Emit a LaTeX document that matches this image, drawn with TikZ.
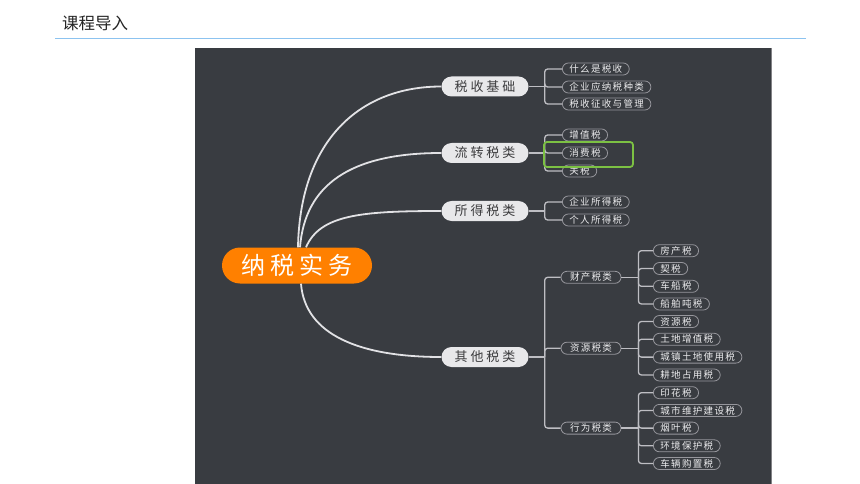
\documentclass[tikz,border=0pt]{standalone}
\usepackage{fontspec}
\setmainfont{Noto Sans CJK SC}
\newfontfamily\cjk{Noto Sans CJK SC}
\newfontfamily\cjkwide[LetterSpace=22]{Noto Sans CJK SC}
\newfontfamily\cjkleaf[LetterSpace=14]{Noto Sans CJK SC}
\usepackage{tikz}
\usetikzlibrary{positioning}
\definecolor{panel}{RGB}{57,60,65}
\definecolor{panelEdge}{RGB}{130,130,134}
\definecolor{hubOrange}{RGB}{255,128,0}
\definecolor{pillGrey}{RGB}{232,232,234}
\definecolor{textDark}{RGB}{60,60,62}
\definecolor{limbWhite}{RGB}{226,226,229}
\definecolor{linkGrey}{RGB}{190,190,195}
\definecolor{leafEdge}{RGB}{150,150,156}
\definecolor{leafText}{RGB}{236,236,238}
\definecolor{markGreen}{RGB}{124,193,67}
\definecolor{ruleBlue}{RGB}{140,195,240}
\definecolor{titleInk}{RGB}{35,35,35}

\begin{document}
\begin{tikzpicture}[x=1pt,y=-1pt,
  hub/.style={fill=hubOrange,text=white,rounded corners=18,minimum width=150,
    minimum height=36,inner sep=0,font=\cjkwide\fontsize{24}{24}\selectfont},
  branch/.style={fill=pillGrey,text=textDark,rounded corners=10,minimum width=87,
    minimum height=20,inner sep=0,font=\cjkwide\fontsize{13}{13}\selectfont},
  sub/.style={draw=leafEdge,line width=0.8,text=leafText,rounded corners=6,
    minimum width=60,minimum height=12,inner sep=0,font=\cjkleaf\fontsize{9.5}{9.5}\selectfont},
  leaf/.style={draw=leafEdge,line width=0.8,text=leafText,rounded corners=6,
    minimum height=12,inner xsep=7,inner ysep=0,anchor=west,
    font=\cjkleaf\fontsize{9.5}{9.5}\selectfont},
  limb/.style={draw=limbWhite,line width=1.8},
  link/.style={draw=linkGrey,line width=1.3,rounded corners=3}]
  \useasboundingbox (0,0) rectangle (860,484);
  \node[anchor=west,inner sep=0,text=titleInk,font=\cjk\fontsize{16.5}{16.5}\selectfont]
    (title) at (62,23.5) {课程导入};
  \draw[ruleBlue,line width=1.2] (55,38.5) -- (806,38.5);
  \fill[panel] (195,48) rectangle (772,484);
  \draw[panelEdge,line width=1.2] (771.4,48) -- (771.4,484);

  \node[hub] (hub) at (297,265.5) {纳税实务};
  \node[branch] (jichu) at (485,86.5) {税收基础};
  \node[branch] (liuzhuan) at (485,153) {流转税类};
  \node[branch] (suode) at (485,211) {所得税类};
  \node[branch] (qita) at (485,357) {其他税类};

  \draw[limb] ([xshift=1pt]hub.north) .. controls (300,140) and (360,86.5) .. (jichu.west);
  \draw[limb] ([xshift=3pt]hub.north) .. controls (305,185) and (350,153) .. (liuzhuan.west);
  \draw[limb] ([xshift=9pt]hub.north) .. controls (320,215) and (360,211) .. (suode.west);
  \draw[limb] ([xshift=4pt]hub.south) .. controls (305,335) and (360,357) .. (qita.west);

  \foreach \b in {jichu,liuzhuan,suode,qita} {
    \coordinate (\b J) at ([xshift=16pt]\b.east);
    \draw[link] (\b.east) -- (\b J);
  }
  \foreach \n/\t/\y in {a1/什么是税收/69, a2/企业应纳税种类/87, a3/税收征收与管理/104} {
    \node[leaf] (\n) at (562,\y) {\t};
    \draw[link] (jichuJ) |- (\n.west);
  }
  \foreach \n/\t/\y in {b1/增值税/135, b2/消费税/153, b3/关税/171} {
    \node[leaf] (\n) at (562,\y) {\t};
    \draw[link] (liuzhuanJ) |- (\n.west);
  }
  \foreach \n/\t/\y in {c1/企业所得税/202, c2/个人所得税/220} {
    \node[leaf] (\n) at (562,\y) {\t};
    \draw[link] (suodeJ) |- (\n.west);
  }
  \draw[markGreen,line width=1.8,rounded corners=3] (544,142) rectangle (633,167);

  \foreach \s/\t/\y in {caichan/财产税类/277.3, ziyuan/资源税类/348.2, xingwei/行为税类/428.1} {
    \node[sub] (\s) at (591,\y) {\t};
    \draw[link] (qitaJ) |- (\s.west);
    \coordinate (\s J) at ([xshift=17pt]\s.east);
    \draw[link] (\s.east) -- (\s J);
  }
  \foreach \n/\t/\y in {d1/房产税/250.7, d2/契税/268.5, d3/车船税/286.3, d4/船舶吨税/304} {
    \node[leaf] (\n) at (653,\y) {\t};
    \draw[link] (caichanJ) |- (\n.west);
  }
  \foreach \n/\t/\y in {e1/资源税/321.5, e2/土地增值税/339.3, e3/城镇土地使用税/357.1, e4/耕地占用税/375} {
    \node[leaf] (\n) at (653,\y) {\t};
    \draw[link] (ziyuanJ) |- (\n.west);
  }
  \foreach \n/\t/\y in {f1/印花税/392.7, f2/城市维护建设税/410.4, f3/烟叶税/428.1, f4/环境保护税/445.8, f5/车辆购置税/463.5} {
    \node[leaf] (\n) at (653,\y) {\t};
    \draw[link] (xingweiJ) |- (\n.west);
  }
\end{tikzpicture}
\end{document}
